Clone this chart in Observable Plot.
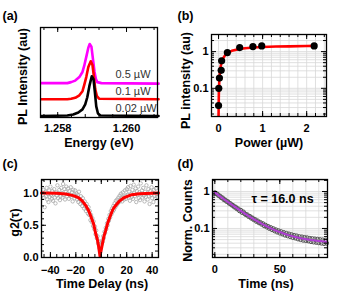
<!DOCTYPE html>
<html><head><meta charset="utf-8">
<script src="https://cdn.jsdelivr.net/npm/d3@7"></script>
<script src="https://cdn.jsdelivr.net/npm/@observablehq/plot@0.6"></script>
<style>
body{margin:0;background:#fff;}
#root{position:relative;width:351px;height:296px;overflow:hidden;background:#fff;font-family:"Liberation Sans",Arial,sans-serif;}
.panel{position:absolute;}
.panel svg{display:block;}
</style></head><body><div id="root"></div>
<script>
// ---------- (a) PL spectra ----------
const energyMag = [1.25752,1.25828,1.25839,1.25851,1.25863,1.25872,1.25877,1.25883,1.25889,1.25893,1.25898,1.25902,1.25907,1.25911,1.25915,1.25927,1.26093];
const plMag     = [0.382,0.382,0.393,0.41,0.449,0.506,0.573,0.674,0.775,0.817,0.787,0.663,0.506,0.427,0.393,0.382,0.376];
const energyRed = [1.25752,1.25828,1.25839,1.25851,1.25863,1.25872,1.25877,1.25883,1.25889,1.25896,1.25901,1.25905,1.25909,1.25914,1.25921,1.26093];
const plRed     = [0.202,0.202,0.208,0.219,0.247,0.292,0.36,0.449,0.562,0.625,0.584,0.461,0.315,0.236,0.208,0.202];
const energyBlk = [1.25752,1.25828,1.25845,1.2586,1.25872,1.2588,1.25886,1.25892,1.25899,1.25904,1.25908,1.25912,1.25917,1.25924,1.26093];
const plBlk     = [0.017,0.022,0.034,0.056,0.09,0.146,0.225,0.348,0.458,0.427,0.281,0.124,0.045,0.022,0.017];
const specLabels = ["0.5 µW","0.1 µW","0.02 µW"];
const energyTicks = [1.258,1.260];
const energyMinor = [1.2576,1.2580,1.2584,1.2588,1.2592,1.2596,1.2600,1.2604,1.2608];

// ---------- (b) power dependence ----------
const powerPts = [0,0.005,0.02,0.06,0.07,0.2,0.48,0.78,0.98,2.17];
const plPts    = [0.034,0.1,0.19,0.31,0.56,0.94,1.29,1.37,1.43,1.43];
const powerFit = [0,0.003,0.008,0.02,0.04,0.07,0.1,0.15,0.2,0.3,0.45,0.6,0.8,1.0,1.3,1.6,2.0,2.2];
const plFit    = [0.0171,0.035,0.087,0.2,0.35,0.52,0.65,0.8,0.91,1.05,1.16,1.23,1.29,1.33,1.37,1.39,1.42,1.43];
const powerTicks = [0,1,2];
const powerMinor = [0,0.2,0.4,0.6,0.8,1.0,1.2,1.4,1.6,1.8,2.0,2.2,2.4];
const logMinor = [0.02,0.03,0.04,0.05,0.06,0.07,0.08,0.09,0.2,0.3,0.4,0.5,0.6,0.7,0.8,0.9,2];
const logMajor = [0.1,1];

// ---------- (c) g2 ----------
const g2Start = -46, g2Step = 0.5;
const g2Values = [
0.97,1.05,0.93,0.78,1.02,0.95,1.08,0.90,0.99,0.86,
1.04,0.94,1.10,0.97,0.91,1.03,0.88,0.98,1.06,0.93,
0.84,1.01,0.96,1.12,0.92,0.99,1.05,0.89,0.95,1.08,
1.00,0.93,1.14,0.97,1.06,0.90,1.02,1.10,0.95,0.99,
1.07,0.91,1.03,0.96,1.09,0.94,1.01,0.87,1.05,0.98,
0.92,1.04,0.95,
0.99,0.90,0.97,0.86,1.02,0.91,0.83,0.95,0.88,0.80,
0.92,0.84,0.76,0.87,0.79,0.72,0.83,0.75,0.68,0.78,
0.66,0.72,0.58,0.66,0.55,0.61,0.49,0.56,0.44,0.48,
0.36,0.42,0.30,0.33,0.22,0.25,0.15,0.12,0.18,0.20,
0.26,0.24,0.33,0.30,0.40,0.38,0.46,0.44,0.53,0.50,
0.60,0.57,0.66,0.62,0.72,0.67,0.76,0.71,0.80,0.74,
0.84,0.78,0.88,0.81,0.90,0.84,0.93,0.86,0.96,0.89,
0.99,0.92,0.87,1.01,0.94,0.90,1.04,0.96,0.91,1.06,
0.97,1.09,0.93,1.02,0.88,1.11,0.99,0.94,1.05,0.91,
1.13,1.00,0.95,1.07,0.86,1.03,0.97,1.10,0.92,1.01,
0.89,1.15,0.98,1.04,0.93,1.08,0.96,0.87,1.02,0.94,
1.12,0.99,0.90,1.06,0.95,0.83,1.03,0.97,1.09,0.92,
1.00,0.86,1.05,0.96,0.91,1.07,0.98,0.94];
const g2FitDelay = [-47,-35,-28,-22,-18,-15,-12,-10,-8,-6,-4.5,-3,-2,-1,0,1,2,3.5,5,7,9,11,14,18,24,30,45];
const g2FitValue = [1.0,0.995,0.985,0.96,0.93,0.88,0.8,0.73,0.63,0.52,0.38,0.27,0.16,0.02,0.12,0.22,0.32,0.42,0.53,0.64,0.74,0.8,0.87,0.93,0.975,0.99,1.0];
const delayTicks = [-40,-20,0,20,40];
const delayMinor = [-45,-40,-35,-30,-25,-20,-15,-10,-5,0,5,10,15,20,25,30,35,40,45];
const g2Ticks = [0,0.5,1];
const g2Minor = [0,0.1,0.2,0.3,0.4,0.5,0.6,0.7,0.8,0.9,1.0,1.1,1.2];

// ---------- (d) lifetime ----------
const decayStart = 0, decayStep = 1;
const decayCounts = [
0.93,0.87,0.85,0.77,0.75,0.68,0.67,0.60,0.59,0.54,
0.53,0.48,0.47,0.43,0.42,0.38,0.38,0.34,0.34,0.30,
0.31,0.27,0.28,0.25,0.235,0.235,0.21,0.212,0.19,0.192,
0.172,0.175,0.155,0.16,0.142,0.146,0.13,0.135,0.118,0.123,
0.109,0.114,0.10,0.106,0.093,0.099,0.086,0.092,0.080,0.087,
0.075,0.082,0.071,0.078,0.066,0.074,0.063,0.071,0.060,0.068,
0.057,0.065,0.055,0.063,0.052,0.060,0.050,0.059,0.048,0.057,
0.047,0.056,0.046,0.054,0.044,0.053,0.043,0.052,0.042,0.051,
0.041,0.050,0.040,0.049,0.039,0.048,0.040];
const decayFitTime  = [0,4,8,12,16,20,24,28,32,36,40,44,50,56,62,68,74,80,86];
const decayFitValue = [0.94,0.74,0.586,0.465,0.371,0.298,0.241,0.197,0.162,0.135,0.114,0.098,0.080,0.067,0.059,0.053,0.049,0.046,0.044];
const timeTicks = [0,50];
const timeMinor = [0,10,20,30,40,50,60,70,80];

// ---------- helpers ----------
const root = document.getElementById("root");
const baseStyle = {fontFamily:"'Liberation Sans', Arial, Helvetica, sans-serif", fontSize:"11px", fontWeight:"bold", color:"#000", background:"transparent", overflow:"visible"};
function place(left, top, el){const d=document.createElement("div");d.className="panel";d.style.left=left+"px";d.style.top=top+"px";d.append(el);root.append(d);}
function ticksX(vals,len,fh){return [Plot.tickX(vals,{insetTop:fh-len,stroke:"#000"}),Plot.tickX(vals,{insetBottom:fh-len,stroke:"#000"})];}
function ticksY(vals,len,fw){return [Plot.tickY(vals,{insetRight:fw-len,stroke:"#000"}),Plot.tickY(vals,{insetLeft:fw-len,stroke:"#000"})];}
const title = (t,o)=>Plot.text([t],{fontSize:12.5,fontWeight:"bold",fill:"#000",textAnchor:"middle",lineAnchor:"middle",...o});
const note = (t,o)=>Plot.text([t],{fontSize:11,fontWeight:"normal",fill:"#333",textAnchor:"start",lineAnchor:"middle",...o});

// (a)
const mkSpec=(E,V)=>E.map((e,i)=>({e,v:V[i]}));
place(0,0,Plot.plot({
  width:175,height:148,marginLeft:40,marginRight:18,marginTop:27,marginBottom:31,style:baseStyle,
  x:{domain:[1.2575,1.2609],ticks:energyTicks,tickFormat:d3.format(".3f"),tickSize:0,tickPadding:7,label:null},
  y:{domain:[0,1],axis:null},
  marks:[
    Plot.line(mkSpec(energyMag,plMag),{x:"e",y:"v",stroke:"#ff00ff",strokeWidth:2.6}),
    Plot.line(mkSpec(energyRed,plRed),{x:"e",y:"v",stroke:"#ff0000",strokeWidth:2.6}),
    Plot.line(mkSpec(energyBlk,plBlk),{x:"e",y:"v",stroke:"#000",strokeWidth:2.6}),
    ...ticksX(energyMinor,3,90),...ticksX(energyTicks,5,90),
    Plot.frame({stroke:"#000",strokeWidth:1.3}),
    note(specLabels[0],{frameAnchor:"top-left",dx:75,dy:47}),
    note(specLabels[1],{frameAnchor:"top-left",dx:75,dy:64}),
    note(specLabels[2],{frameAnchor:"top-left",dx:75,dy:81}),
    title("Energy (eV)",{frameAnchor:"bottom",dy:25.5}),
    title("PL Intensity (au)",{frameAnchor:"left",dx:-18,dy:4,rotate:-90}),
    title("(a)",{frameAnchor:"top-left",dx:-38,dy:-12,textAnchor:"start"})
  ]
}));

// (b)
place(175,0,Plot.plot({
  width:176,height:148,marginLeft:36,marginRight:25,marginTop:34,marginBottom:32,style:baseStyle,
  x:{domain:[-0.16,2.45],ticks:powerTicks,tickFormat:d3.format("~g"),tickSize:0,tickPadding:8,label:null},
  y:{type:"log",domain:[0.0171,2.92],ticks:logMajor,tickFormat:d3.format("~g"),tickSize:0,tickPadding:3,label:null},
  marks:[
    Plot.ruleX(powerMinor,{stroke:"#d8d8d8",strokeWidth:0.8}),
    Plot.ruleY(logMinor.concat(logMajor),{stroke:"#d8d8d8",strokeWidth:0.8}),
    ...ticksX(powerMinor,3,82),...ticksX(powerTicks,5,82),
    ...ticksY(logMinor,3,115),...ticksY(logMajor,5,115),
    Plot.line(powerFit.map((p,i)=>({p,v:plFit[i]})),{x:"p",y:"v",stroke:"#ff0000",strokeWidth:2.6,clip:true}),
    Plot.dot(powerPts.map((p,i)=>({p,v:plPts[i]})),{x:"p",y:"v",r:3.6,fill:"#000"}),
    Plot.frame({stroke:"#000",strokeWidth:1.3}),
    title("Power (µW)",{frameAnchor:"bottom",dy:26}),
    title("PL intensity (au)",{frameAnchor:"left",dx:-26,dy:5,rotate:-90}),
    title("(b)",{frameAnchor:"top-left",dx:-34,dy:-19,textAnchor:"start"})
  ]
}));

// (c)
const g2Data = g2Values.map((v,i)=>({t:g2Start+i*g2Step,v}));
place(0,148,Plot.plot({
  width:175,height:148,marginLeft:41,marginRight:17,marginTop:31,marginBottom:39,style:baseStyle,
  x:{domain:[-47,45],ticks:delayTicks,tickFormat:d3.format("~g"),tickSize:0,tickPadding:9,label:null},
  y:{domain:[0,1.21],ticks:g2Ticks,tickFormat:d3.format(".1f"),tickSize:0,tickPadding:3,label:null},
  marks:[
    Plot.dot(g2Data,{x:"t",y:"v",r:1.7,stroke:"#a8a8a8",strokeWidth:0.8,fill:"none",clip:true}),
    Plot.line(g2FitDelay.map((t,i)=>({t,v:g2FitValue[i]})),{x:"t",y:"v",stroke:"#ff0000",strokeWidth:3}),
    ...ticksX(delayMinor,3,78),...ticksX(delayTicks,5,78),
    ...ticksY(g2Minor,3,117),...ticksY(g2Ticks,5,117),
    Plot.frame({stroke:"#000",strokeWidth:1.3}),
    title("Time Delay (ns)",{frameAnchor:"bottom",dy:26,dx:2}),
    title("g2(τ)",{frameAnchor:"left",dx:-26.5,dy:4,rotate:-90}),
    title("(c)",{frameAnchor:"top-left",dx:-39,dy:-16,textAnchor:"start"})
  ]
}));

// (d)
const decayData = decayCounts.map((v,i)=>({t:decayStart+i*decayStep,v}));
place(175,148,Plot.plot({
  width:176,height:148,marginLeft:37,marginRight:24,marginTop:31,marginBottom:39,style:baseStyle,
  x:{domain:[-1.8,86.7],ticks:timeTicks,tickFormat:d3.format("~g"),tickSize:0,tickPadding:8,label:null},
  y:{type:"log",domain:[0.0164,2.11],ticks:logMajor,tickFormat:d3.format("~g"),tickSize:0,tickPadding:3,label:null},
  marks:[
    Plot.ruleX(timeMinor,{stroke:"#d8d8d8",strokeWidth:0.8}),
    Plot.ruleY(logMinor.concat(logMajor),{stroke:"#d8d8d8",strokeWidth:0.8}),
    Plot.dot(decayData,{x:"t",y:"v",r:2,stroke:"#555",strokeWidth:1,fill:"none"}),
    Plot.line(decayFitTime.map((t,i)=>({t,v:decayFitValue[i]})),{x:"t",y:"v",stroke:"#b03fd4",strokeWidth:2,curve:"monotone-x"}),
    ...ticksX(timeMinor,3,78),...ticksX(timeTicks,5,78),
    ...ticksY(logMinor,3,115),...ticksY(logMajor,5,115),
    Plot.frame({stroke:"#000",strokeWidth:1.3}),
    title("τ = 16.0 ns",{frameAnchor:"top-left",dx:70,dy:19}),
    title("Time (ns)",{frameAnchor:"bottom",dy:26,dx:-4}),
    title("Norm. Counts",{frameAnchor:"left",dx:-25,dy:2,rotate:-90}),
    title("(d)",{frameAnchor:"top-left",dx:-35,dy:-16,textAnchor:"start"})
  ]
}));
</script></body></html>
